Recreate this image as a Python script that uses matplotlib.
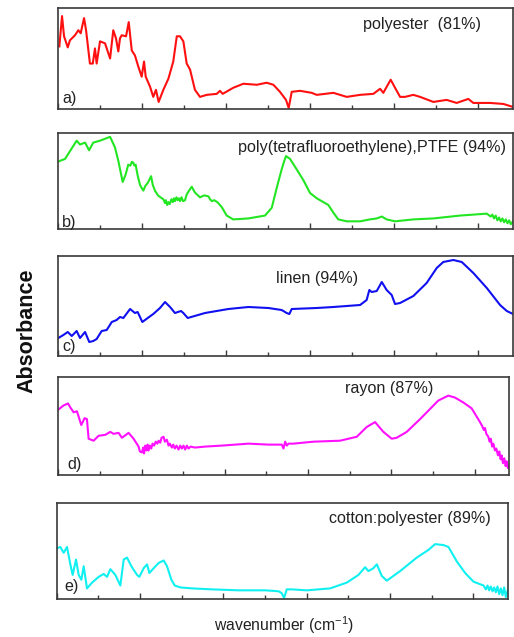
import matplotlib
matplotlib.use("Agg")
import matplotlib.pyplot as plt
from matplotlib.ticker import MultipleLocator

plt.rcParams['font.family'] = ['Liberation Sans', 'DejaVu Sans']
plt.rcParams['mathtext.fontset'] = 'custom'
plt.rcParams['mathtext.rm'] = 'Liberation Sans'

# ---- data: (wavenumber cm-1, absorbance normalised) ----
polyester = [(508,0.62),(524,0.92),(536,0.72),(558,0.61),(571,0.68),(601,0.73),(621,0.78),(635,0.75),
             (655,0.90),(667,0.78),(690,0.45),(707,0.45),(720,0.60),(730,0.45),(750,0.67),(780,0.65),
             (810,0.50),(829,0.78),(845,0.70),(859,0.57),(869,0.70),(879,0.73),(905,0.72),(921,0.86),
             (939,0.58),(958,0.53),(978,0.42),(998,0.32),(1012,0.47),(1022,0.32),(1048,0.22),(1067,0.12),
             (1083,0.19),(1099,0.07),(1127,0.19),(1157,0.30),(1186,0.47),(1207,0.72),(1226,0.72),(1246,0.67),
             (1266,0.45),(1286,0.39),(1315,0.19),(1345,0.12),(1385,0.14),(1445,0.15),(1464,0.18),(1480,0.15),
             (1543,0.21),(1603,0.25),(1683,0.24),(1742,0.26),(1782,0.24),(1821,0.17),(1857,0.09),(1873,0.01),
             (1891,0.17),(1940,0.18),(2010,0.16),(2040,0.14),(2139,0.16),(2218,0.12),(2298,0.14),(2377,0.15),
             (2417,0.20),(2436,0.16),(2480,0.29),(2506,0.21),(2536,0.12),(2565,0.12),(2615,0.14),(2655,0.12),
             (2734,0.07),(2813,0.09),(2873,0.06),(2942,0.10),(2972,0.06),(3071,0.06),(3151,0.05),(3208,0.02)]

ptfe = [(500,0.70),(512,0.71),(542,0.73),(571,0.81),(611,0.92),(631,0.88),(661,0.90),(685,0.82),(710,0.90),
        (750,0.92),(810,0.96),(839,0.85),(859,0.71),(885,0.49),(903,0.57),(918,0.67),(930,0.66),(940,0.70),
        (948,0.69),(955,0.66),(962,0.67),(975,0.55),(988,0.46),(1000,0.42),(1008,0.40),(1020,0.45),
        (1034,0.48),(1054,0.55),(1064,0.46),(1077,0.40),(1095,0.35),(1110,0.33),(1127,0.31),(1137,0.27),
        (1142,0.30),(1150,0.25),(1157,0.28),(1165,0.26),(1175,0.31),(1183,0.28),(1190,0.32),(1196,0.29),
        (1205,0.33),(1212,0.30),(1220,0.32),(1226,0.29),(1235,0.33),(1244,0.29),(1256,0.30),(1266,0.36),
        (1280,0.40),(1296,0.44),(1315,0.38),(1345,0.33),(1370,0.35),(1395,0.34),(1405,0.31),(1415,0.29),
        (1430,0.30),(1448,0.28),(1474,0.23),(1504,0.14),(1543,0.10),(1633,0.11),(1732,0.14),(1772,0.22),
        (1802,0.43),(1831,0.62),(1845,0.70),(1857,0.76),(1881,0.73),(1921,0.62),(1960,0.51),(2000,0.375),
        (2040,0.32),(2109,0.25),(2139,0.17),(2168,0.10),(2218,0.08),(2298,0.08),(2357,0.10),(2397,0.11),
        (2427,0.13),(2456,0.10),(2506,0.08),(2615,0.10),(2734,0.11),(2893,0.14),(3052,0.16),(3075,0.13),
        (3085,0.15),(3095,0.11),(3105,0.14),(3115,0.09),(3125,0.12),(3135,0.08),(3145,0.11),(3155,0.07),
        (3165,0.10),(3175,0.06),(3185,0.09),(3195,0.05),(3208,0.08)]

linen = [(502,0.18),(532,0.21),(558,0.24),(582,0.20),(611,0.25),(631,0.18),(661,0.24),(686,0.14),(710,0.15),
         (730,0.17),(760,0.25),(790,0.26),(820,0.34),(849,0.36),(869,0.39),(889,0.38),(929,0.47),(958,0.43),
         (974,0.44),(1002,0.34),(1034,0.38),(1067,0.42),(1107,0.48),(1137,0.54),(1167,0.49),(1196,0.43),
         (1232,0.45),(1246,0.43),(1272,0.38),(1375,0.43),(1514,0.47),(1633,0.49),(1752,0.48),(1831,0.46),
         (1861,0.43),(1877,0.42),(1891,0.47),(2040,0.48),(2139,0.49),(2298,0.51),(2337,0.56),(2353,0.66),
         (2367,0.64),(2397,0.65),(2427,0.74),(2456,0.66),(2486,0.61),(2506,0.52),(2536,0.53),(2615,0.60),
         (2694,0.73),(2754,0.88),(2793,0.94),(2853,0.96),(2903,0.94),(2972,0.83),(3052,0.68),(3131,0.51),
         (3171,0.45),(3208,0.42)]

rayon = [(502,0.67),(532,0.71),(558,0.73),(572,0.69),(592,0.64),(612,0.65),(638,0.51),(658,0.58),(672,0.57),
         (682,0.37),(712,0.35),(742,0.40),(782,0.41),(812,0.44),(832,0.42),(862,0.43),(882,0.38),(922,0.43),
         (952,0.37),(982,0.29),(990,0.24),(1002,0.23),(1010,0.28),(1015,0.22),(1022,0.30),(1030,0.25),
         (1036,0.31),(1042,0.25),(1050,0.30),(1058,0.27),(1066,0.32),(1075,0.30),(1085,0.34),(1095,0.32),
         (1102,0.35),(1112,0.33),(1120,0.38),(1132,0.39),(1140,0.34),(1152,0.36),(1162,0.30),(1170,0.32),
         (1182,0.28),(1190,0.31),(1200,0.27),(1210,0.30),(1222,0.26),(1232,0.30),(1242,0.27),(1252,0.30),
         (1262,0.26),(1272,0.30),(1282,0.27),(1295,0.29),(1320,0.28),(1382,0.29),(1482,0.30),(1642,0.32),
         (1762,0.31),(1842,0.31),(1852,0.27),(1862,0.34),(1872,0.30),(1882,0.32),(1912,0.32),(2032,0.34),
         (2192,0.35),(2292,0.39),(2352,0.49),(2402,0.54),(2452,0.44),(2502,0.37),(2532,0.38),(2592,0.44),
         (2672,0.57),(2782,0.76),(2842,0.81),(2882,0.79),(2932,0.74),(2982,0.68),(3032,0.54),(3045,0.50),
         (3055,0.46),(3062,0.48),(3070,0.42),(3082,0.39),(3090,0.34),(3097,0.37),(3105,0.29),(3112,0.32),
         (3122,0.25),(3130,0.27),(3140,0.20),(3148,0.24),(3156,0.16),(3162,0.20),(3170,0.12),(3178,0.17),
         (3186,0.09),(3192,0.14),(3200,0.07),(3208,0.10)]

cotton_polyester = [(509,0.53),(523,0.54),(543,0.48),(563,0.54),(583,0.36),(597,0.25),(617,0.41),(633,0.25),
                    (649,0.20),(663,0.34),(683,0.11),(713,0.17),(753,0.23),(783,0.26),(803,0.23),(823,0.31),
                    (853,0.25),(883,0.14),(903,0.41),(923,0.43),(949,0.34),(983,0.25),(997,0.23),(1023,0.32),
                    (1043,0.36),(1057,0.27),(1083,0.32),(1113,0.375),(1143,0.40),(1163,0.34),(1189,0.20),
                    (1209,0.14),(1243,0.12),(1313,0.11),(1433,0.10),(1593,0.09),(1753,0.09),(1833,0.08),
                    (1851,0.06),(1865,0.01),(1881,0.10),(1913,0.10),(2001,0.09),(2141,0.11),(2241,0.17),
                    (2311,0.25),(2351,0.33),(2371,0.29),(2401,0.32),(2421,0.36),(2451,0.24),(2481,0.19),
                    (2561,0.29),(2661,0.43),(2731,0.51),(2771,0.57),(2821,0.56),(2851,0.54),(2901,0.39),
                    (2951,0.27),(3001,0.18),(3061,0.14),(3075,0.10),(3085,0.14),(3095,0.09),(3105,0.13),
                    (3115,0.08),(3125,0.12),(3135,0.07),(3145,0.13),(3155,0.05),(3165,0.11),(3175,0.04),
                    (3185,0.12),(3195,0.02),(3208,0.10)]

spectra = [polyester, ptfe, linen, rayon, cotton_polyester]
names = ["polyester  (81%)", "poly(tetrafluoroethylene),PTFE (94%)", "linen (94%)",
         "rayon (87%)", "cotton:polyester (89%)"]
panel_tags = ["a)", "b)", "c)", "d)", "e)"]
colors = ["#ff1010", "#22e622", "#1010f0", "#ff10ff", "#10f0f0"]

# ---- layout (pixels) ----
W, H = 514, 637
rects = [(58, 8, 513, 109), (58, 133, 513, 229), (58, 256, 513, 356),
         (58.3, 377, 509.3, 475), (56.5, 502.7, 508, 599)]
name_pos = [(422, 25), (372, 147), (317, 278), (389, 388), (410, 518)]
tag_pos = [(62, 99), (62, 222), (62, 347), (67, 464), (64, 586)]

fig = plt.figure(figsize=(W / 100, H / 100), dpi=100)
edge = "#3a3a3a"
for spec, nm, tag, col, (l, t, r, b), npos, tpos in zip(spectra, names, panel_tags, colors,
                                                       rects, name_pos, tag_pos):
    ax = fig.add_axes([l / W, 1 - b / H, (r - l) / W, (b - t) / H])
    xs = [p[0] for p in spec]
    ys = [p[1] for p in spec]
    ax.plot(xs, ys, color=col, lw=1.5, solid_joinstyle='round')
    ax.set_xlim(500, 3208)
    ax.set_ylim(0, 1)
    ax.set_yticks([])
    ax.xaxis.set_major_locator(MultipleLocator(500))
    ax.xaxis.set_minor_locator(MultipleLocator(250))
    ax.tick_params(axis='x', which='major', direction='in', length=4.5, width=1.0,
                   color=edge, labelbottom=False)
    ax.tick_params(axis='x', which='minor', direction='in', length=2.8, width=1.0, color=edge)
    for s in ax.spines.values():
        s.set_color(edge)
        s.set_linewidth(1.2)
    fig.text(npos[0] / W, 1 - npos[1] / H, nm, ha='center', va='center',
             fontsize=11.6, color="#222222")
    fig.text(tpos[0] / W, 1 - tpos[1] / H, tag, ha='left', va='center',
             fontsize=11.6, color="#222222")

fig.text(27 / W, 1 - 331 / H, "Absorbance", rotation=90, ha='center', va='center',
         fontsize=15.5, fontweight='bold', color="#111111")
fig.text(284 / W, 1 - 625 / H, r"wavenumber (cm$^{\mathregular{-1}}$)", ha='center', va='center',
         fontsize=11.3, color="#222222")

fig.savefig("out.png", dpi=100)
